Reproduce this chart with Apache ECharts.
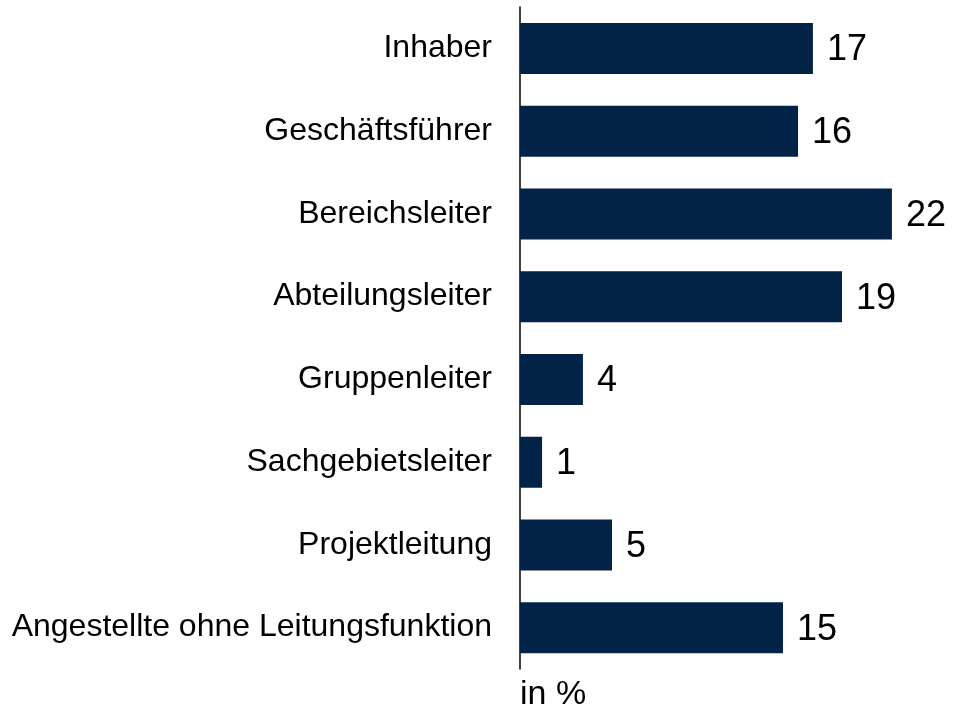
<!DOCTYPE html>
<html><head><meta charset="utf-8">
<script src="https://cdn.jsdelivr.net/npm/echarts@6/dist/echarts.min.js"></script>
<style>html,body{margin:0;padding:0;background:#fff}#c{width:953px;height:708px}</style>
</head><body><div id="c"></div>
<script>
const categories = ["Inhaber","Geschäftsführer","Bereichsleiter","Abteilungsleiter","Gruppenleiter","Sachgebietsleiter","Projektleitung","Angestellte ohne Leitungsfunktion"];
const values = [17.13, 16.26, 21.75, 18.83, 3.68, 1.29, 5.38, 15.38];
const labels = ["17","16","22","19","4","1","5","15"];
const unitText = "in %";

const chart = echarts.init(document.getElementById('c'), null, {renderer:'canvas'});
chart.setOption({
  animation:false,
  grid:{left:520, top:7, height:662, width:427.5},
  title:{text:unitText, left:515, top:673, textStyle:{fontFamily:'Liberation Sans, Arial', fontSize:34, fontWeight:'normal', color:'#000'}},
  xAxis:{type:'value', min:0, max:25, show:false},
  yAxis:{type:'category', data:categories, inverse:true,
    axisLine:{show:true, lineStyle:{color:'#000', width:1.5}},
    axisTick:{show:false},
    axisLabel:{margin:28, color:'#000', fontSize:32, fontFamily:'Liberation Sans, Arial'}},
  series:[{type:'bar', data:values, barWidth:51,
    itemStyle:{color:'#022246'},
    label:{show:true, position:'right', distance:14, offset:[0,2], color:'#000', fontSize:36, fontFamily:'Liberation Sans, Arial',
      formatter:p=>labels[p.dataIndex]}}]
});
</script></body></html>
